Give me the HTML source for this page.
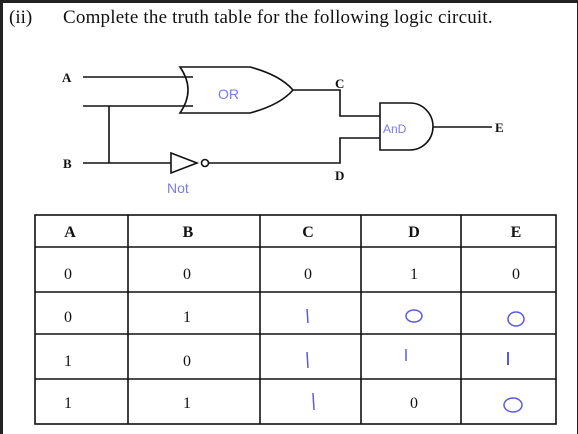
<!DOCTYPE html>
<html><head><meta charset="utf-8"><style>
body{margin:0;width:578px;height:434px;overflow:hidden;background:#fff}
svg{display:block}
text{font-family:"Liberation Serif",serif}
</style></head><body>
<svg width="578" height="434" viewBox="0 0 578 434">
<rect x="0" y="0" width="578" height="3" fill="#222"/>
<rect x="0" y="0" width="3" height="434" fill="#222"/>
<rect x="577" y="0" width="1" height="434" fill="#222"/>
<text x="9" y="23" font-size="19" fill="#111">(ii)</text>
<text x="63" y="23" font-size="19" fill="#111" letter-spacing="0.2">Complete the truth table for the following logic circuit.</text>
<g stroke="#111" stroke-width="1.6" fill="none">
<line x1="83" y1="77" x2="193" y2="77"/>
<line x1="83" y1="106" x2="193" y2="106"/>
<line x1="109" y1="106" x2="109" y2="163"/>
<line x1="83" y1="163" x2="171" y2="163"/>
<path d="M180 67 Q196 90 180 113 L250 113 Q280 105 293 90 Q280 75 250 67 Z"/>
<path d="M171 153 L197 163 L171 173 Z"/>
<circle cx="205" cy="163" r="3.5"/>
<polyline points="209,163 340,163 340,138 380,138"/>
<polyline points="293,90 340,90 340,116 380,116"/>
<path d="M380 103 L410 103 A23 23.5 0 0 1 410 150 L380 150 Z"/>
<line x1="433" y1="127" x2="492" y2="127"/>
</g>
<g font-size="13" font-weight="bold" fill="#111">
<text x="62" y="82">A</text>
<text x="63" y="168">B</text>
<text x="335" y="88">C</text>
<text x="335" y="180">D</text>
<text x="495" y="132">E</text>
</g>
<g fill="#7b7be6" font-size="14">
<text x="218" y="99" style="font-family:'Liberation Sans',sans-serif;font-weight:300">OR</text>
<text x="383" y="133" font-size="12" style="font-family:'Liberation Sans',sans-serif">AnD</text>
<text x="167" y="193" style="font-family:'Liberation Sans',sans-serif">Not</text>
</g>
<g stroke="#111" stroke-width="1.6">
<rect x="35" y="215" width="521" height="209" fill="none"/>
<line x1="128" y1="215" x2="128" y2="424"/>
<line x1="260" y1="215" x2="260" y2="424"/>
<line x1="361" y1="215" x2="361" y2="424"/>
<line x1="461" y1="215" x2="461" y2="424"/>
<line x1="35" y1="247" x2="556" y2="247"/>
<line x1="35" y1="292" x2="556" y2="292"/>
<line x1="35" y1="334" x2="556" y2="334"/>
<line x1="35" y1="379" x2="556" y2="379"/>
</g>
<g font-size="16" fill="#111" text-anchor="middle">
<g font-weight="bold">
<text x="70" y="237">A</text>
<text x="188" y="237">B</text>
<text x="308" y="237">C</text>
<text x="414" y="237">D</text>
<text x="516" y="237">E</text>
</g>
<text x="68" y="279">0</text><text x="187" y="279">0</text><text x="308" y="279">0</text><text x="414" y="279">1</text><text x="516" y="279">0</text>
<text x="68" y="322">0</text><text x="187" y="322">1</text>
<text x="68" y="366">1</text><text x="187" y="366">0</text>
<text x="68" y="408">1</text><text x="187" y="408">1</text><text x="414" y="408">0</text>
</g>
<g stroke="#5a5ae0" stroke-width="1.5" fill="none">
<line x1="307" y1="309" x2="308" y2="323"/>
<ellipse cx="414" cy="316" rx="8" ry="6"/>
<ellipse cx="516" cy="319" rx="8" ry="7"/>
<line x1="307" y1="352" x2="308" y2="368"/>
<line x1="406" y1="349" x2="406" y2="361"/>
<line x1="508" y1="352" x2="508" y2="365" stroke-width="2"/>
<line x1="313" y1="393" x2="314" y2="410"/>
<ellipse cx="513" cy="405" rx="9" ry="7"/>
</g>
</svg>
</body></html>
